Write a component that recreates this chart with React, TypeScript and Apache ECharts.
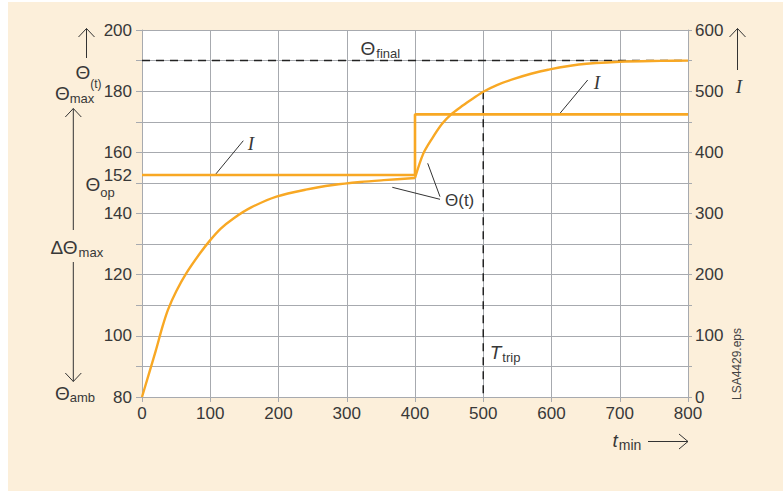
import React, { useEffect, useRef } from "react";
import * as echarts from "echarts";

// Θ(t) before the current step (t in min, Θ in °C)
const timeA = [0, 10, 20, 30, 38, 50, 65, 85, 100, 115, 134, 160, 197, 240, 280, 320, 354, 400];
const thetaA = [80, 87.5, 95, 103, 108.5, 114.5, 120.5, 127, 131.3, 135, 138.4, 142, 145.5, 147.8, 149.3, 150.3, 150.9, 151.6];
// Θ(t) after the current step
const timeB = [400, 412, 425, 440, 455, 470, 485, 500, 520, 545, 570, 595, 640, 700, 760, 800];
const thetaB = [151.6, 159.5, 164.5, 169.4, 172.8, 175.3, 177.6, 179.8, 182, 184, 185.7, 187, 188.7, 189.6, 189.9, 190];
// current I (right axis)
const iTime = [0, 400, 400, 800];
const iValue = [363, 363, 462, 462];
// reference levels
const thetaFinal = 190;
const thetaOp = 152;
const tripTime = 500;
const tripTheta = 180;
const thetaAmb = 80;
const xTicks = [0, 100, 200, 300, 400, 500, 600, 700, 800];
const leftLabels = [80, 100, 120, 140, 160, 180, 200];
const rightLabels = [0, 100, 200, 300, 400, 500, 600];

const ORANGE = "#F8A824";
const GRID = "#A7AAAF";
const TXT = "#383838";
const SANS = '"Liberation Sans", Arial, sans-serif';
const F = (s: number, extra = "") => `${extra}${s}px ${SANS}`;
const SERIF_I = 'italic 19px "Liberation Serif", "DejaVu Serif", serif';

let measureCtx: CanvasRenderingContext2D | null = null;
function textWidth(text: string, font: string) {
  if (!measureCtx) measureCtx = document.createElement("canvas").getContext("2d");
  if (!measureCtx) return text.length * 10;
  measureCtx.font = font;
  return measureCtx.measureText(text).width;
}

function txt(text: string, x: number, y: number, font: string, align = "left", fill = TXT, extra: any = {}) {
  return {
    type: "text",
    x,
    y,
    silent: true,
    ...extra,
    style: { text, font, fill, textAlign: align, textVerticalAlign: "middle" },
  };
}
// main symbol followed directly by a lowered subscript
function subTxt(main: string, sub: string, x: number, y: number, mainFont: string, subFont: string, dy: number, gap = 0) {
  const w = textWidth(main, mainFont);
  return [txt(main, x, y, mainFont), txt(sub, x + w + gap, y + dy, subFont)];
}
function ln(x1: number, y1: number, x2: number, y2: number, w = 1) {
  return { type: "line", silent: true, shape: { x1, y1, x2, y2 }, style: { stroke: "#333", lineWidth: w } };
}
function head(points: number[][]) {
  return { type: "polyline", silent: true, shape: { points }, style: { stroke: "#333", lineWidth: 1, fill: null } };
}

export default function App() {
  const ref = useRef<HTMLDivElement>(null);
  useEffect(() => {
    if (!ref.current) return;
    const chart = echarts.init(ref.current, null, { renderer: "svg" });
    const pairs = (xs: number[], ys: number[]) => xs.map((x, i) => [x, ys[i]]);
    chart.setOption({
      animation: false,
      grid: { left: 142, right: 95, top: 30, bottom: 96, show: true, backgroundColor: "#fff", borderWidth: 0 },
      xAxis: {
        type: "value",
        min: 0,
        max: 800,
        interval: 100,
        axisLine: { lineStyle: { color: GRID, width: 1 } },
        axisTick: { length: 5, lineStyle: { color: GRID } },
        splitLine: { show: true, lineStyle: { color: GRID, width: 1 } },
        axisLabel: {
          color: TXT,
          fontSize: 17,
          fontFamily: SANS,
          margin: 8,
          formatter: (v: number) => (xTicks.includes(v) ? String(v) : ""),
        },
      },
      yAxis: [
        {
          type: "value",
          min: 80,
          max: 200,
          interval: 10,
          position: "left",
          axisLine: { show: true, lineStyle: { color: GRID, width: 1 } },
          axisTick: { show: true, length: 6, lineStyle: { color: GRID } },
          splitLine: { show: true, lineStyle: { color: GRID, width: 1 } },
          axisLabel: {
            color: TXT,
            fontSize: 17,
            fontFamily: SANS,
            margin: 10,
            formatter: (v: number) => (leftLabels.includes(v) ? String(v) : ""),
          },
        },
        {
          type: "value",
          min: 0,
          max: 600,
          interval: 50,
          position: "right",
          axisLine: { show: true, lineStyle: { color: GRID, width: 1 } },
          axisTick: { show: true, length: 4, lineStyle: { color: GRID } },
          splitLine: { show: false },
          axisLabel: {
            color: TXT,
            fontSize: 17,
            fontFamily: SANS,
            margin: 7,
            formatter: (v: number) => (rightLabels.includes(v) ? String(v) : ""),
          },
        },
      ],
      series: [
        {
          type: "line",
          data: [[0, thetaFinal], [800, thetaFinal]],
          symbol: "none",
          lineStyle: { color: "#222", width: 1.5, type: [8, 6] },
          z: 1,
        },
        {
          type: "line",
          data: [[tripTime, tripTheta], [tripTime, thetaAmb]],
          symbol: "none",
          lineStyle: { color: "#222", width: 1.5, type: [8, 6] },
          z: 1,
        },
        {
          type: "line",
          yAxisIndex: 1,
          data: pairs(iTime, iValue),
          symbol: "none",
          lineStyle: { color: ORANGE, width: 2.6 },
          z: 3,
        },
        {
          type: "line",
          data: pairs(timeA, thetaA),
          symbol: "none",
          smooth: 0.3,
          lineStyle: { color: ORANGE, width: 2.4 },
          z: 4,
        },
        {
          type: "line",
          data: pairs(timeB, thetaB),
          symbol: "none",
          smooth: 0.3,
          lineStyle: { color: ORANGE, width: 2.4 },
          z: 4,
        },
      ],
    });

    const yOp = chart.convertToPixel({ yAxisIndex: 0 }, thetaOp) as number;
    const xTrip = chart.convertToPixel({ xAxisIndex: 0 }, tripTime) as number;
    const TH = F(19);
    const SUB = F(13);

    chart.setOption({
      graphic: [
        { type: "rect", z: -10, silent: true, shape: { x: 8, y: 2, width: 775, height: 489 }, style: { fill: "#FCEFDA" } },
        // 152 label
        txt(String(thetaOp), 132, yOp - 1, F(17), "right"),
        // left side labels
        ...subTxt("Θ", "(t)", 75.5, 72, TH, F(12), 12),
        ...subTxt("Θ", "max", 55, 93.5, TH, SUB, 5),
        ...subTxt("Θ", "op", 85.5, 184.5, TH, SUB, 8),
        ...subTxt("ΔΘ", "max", 50.5, 247, TH, SUB, 5, 1),
        ...subTxt("Θ", "amb", 55, 393, TH, SUB, 4.5),
        ln(86.5, 28.5, 86.5, 58),
        head([[78.5, 37], [86.5, 28.5], [94.5, 37]]),
        ln(73.3, 108.5, 73.3, 230),
        head([[65.3, 117], [73.3, 108.5], [81.3, 117]]),
        ln(73.3, 262, 73.3, 381.5),
        head([[65.3, 373], [73.3, 381.5], [81.3, 373]]),
        // right side
        ln(737.5, 28.5, 737.5, 70),
        head([[729.5, 37], [737.5, 28.5], [745.5, 37]]),
        txt("I", 739, 86, SERIF_I, "center"),
        txt("LSA4429.eps", 737, 364, F(12), "center", "#444", { rotation: Math.PI / 2 }),
        // bottom axis title
        ...subTxt("t", "min", 612.5, 440, F(19, "italic "), F(14), 4.5, 1),
        ln(648, 441.5, 688, 441.5),
        head([[679, 434], [688, 441.5], [679, 449]]),
        // in-plot annotations
        ...subTxt("Θ", "final", 360.5, 48, TH, SUB, 5, 1),
        ...subTxt("T", "trip", xTrip + 6.5, 352, F(19, "italic "), SUB, 5, 1),
        txt("Θ(t)", 445, 200, F(17)),
        ln(392.3, 187.3, 440, 199.3),
        ln(427.7, 163.3, 440, 196.7),
        txt("I", 251, 143.5, SERIF_I, "center"),
        ln(215, 175, 243.3, 140.7),
        txt("I", 597, 82, SERIF_I, "center"),
        ln(560, 113.3, 587.7, 80),
      ],
    });

    return () => chart.dispose();
  }, []);
  return (
    <div
      ref={ref}
      style={{ position: "fixed", left: 0, top: 0, width: 783, height: 493, background: "#fff" }}
    />
  );
}
